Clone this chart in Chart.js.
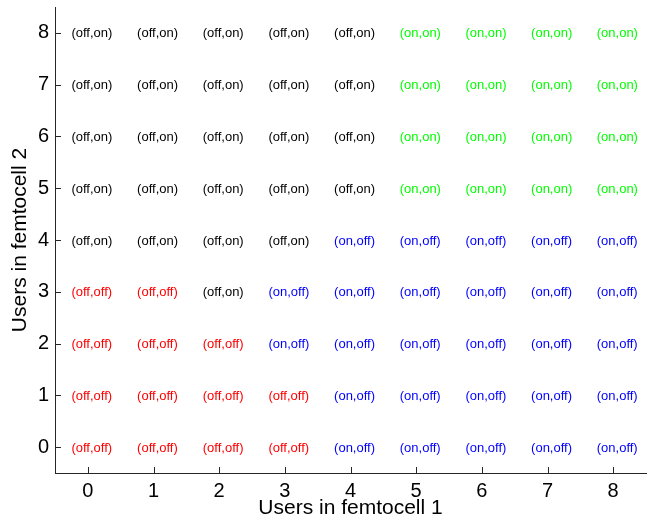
<!DOCTYPE html>
<html>
<head>
<meta charset="utf-8">
<script src="https://cdn.jsdelivr.net/npm/chart.js@4"></script>
<style>
  html, body { margin: 0; padding: 0; background: #fff; }
  #wrap { width: 655px; height: 523px; }
</style>
</head>
<body>
<div id="wrap"><canvas id="femtoChart" width="655" height="523"></canvas></div>
<script>
// Users in each femtocell (axis values)
const usersFemto1 = [0, 1, 2, 3, 4, 5, 6, 7, 8];
const usersFemto2 = [0, 1, 2, 3, 4, 5, 6, 7, 8];

// Access states (femtocell 1, femtocell 2)
const stateLabels = ['(off,off)', '(off,on)', '(on,off)', '(on,on)'];
const stateColors = ['#ff0000', '#000000', '#0000ff', '#00ff00'];

// State index per cell, one row per number of users in femtocell 2
const statesU2_0 = [0, 0, 0, 0, 2, 2, 2, 2, 2];
const statesU2_1 = [0, 0, 0, 0, 2, 2, 2, 2, 2];
const statesU2_2 = [0, 0, 0, 2, 2, 2, 2, 2, 2];
const statesU2_3 = [0, 0, 1, 2, 2, 2, 2, 2, 2];
const statesU2_4 = [1, 1, 1, 1, 2, 2, 2, 2, 2];
const statesU2_5 = [1, 1, 1, 1, 1, 3, 3, 3, 3];
const statesU2_6 = [1, 1, 1, 1, 1, 3, 3, 3, 3];
const statesU2_7 = [1, 1, 1, 1, 1, 3, 3, 3, 3];
const statesU2_8 = [1, 1, 1, 1, 1, 3, 3, 3, 3];
const stateRows = [statesU2_0, statesU2_1, statesU2_2, statesU2_3, statesU2_4,
                   statesU2_5, statesU2_6, statesU2_7, statesU2_8];

const FONT = "'Liberation Sans', Arial, Helvetica, sans-serif";

// one dataset per state
const datasets = stateLabels.map((label, s) => {
  const pts = [];
  stateRows.forEach((row, j) => {
    row.forEach((st, i) => {
      if (st === s) pts.push({ x: usersFemto1[i], y: usersFemto2[j] });
    });
  });
  return { label, data: pts, pointRadius: 0, pointHoverRadius: 0, color: stateColors[s] };
});

// draws the state text in each cell and the inward tick marks
const cellLabels = {
  id: 'cellLabels',
  afterDatasetsDraw(chart) {
    const ctx = chart.ctx;
    const xs = chart.scales.x, ys = chart.scales.y;
    ctx.save();
    ctx.font = '13px ' + FONT;
    ctx.textAlign = 'left';
    ctx.textBaseline = 'middle';
    chart.data.datasets.forEach(ds => {
      ctx.fillStyle = ds.color;
      ds.data.forEach(p => {
        ctx.fillText(ds.label, xs.getPixelForValue(p.x - 0.25), ys.getPixelForValue(p.y) + 1);
      });
    });
    ctx.restore();
  },
  afterDraw(chart) {
    const ctx = chart.ctx;
    const xs = chart.scales.x, ys = chart.scales.y;
    const a = chart.chartArea;
    ctx.save();
    ctx.strokeStyle = '#262626';
    ctx.lineWidth = 1;
    ctx.beginPath();
    usersFemto1.forEach(v => {
      const px = Math.round(xs.getPixelForValue(v)) + 0.5;
      ctx.moveTo(px, a.bottom); ctx.lineTo(px, a.bottom - 6);
    });
    usersFemto2.forEach(v => {
      const py = Math.round(ys.getPixelForValue(v)) + 0.5;
      ctx.moveTo(a.left, py); ctx.lineTo(a.left + 6, py);
    });
    ctx.stroke();
    ctx.restore();
  }
};

const noPad = s => { s.paddingTop = 0; s.paddingBottom = 0; s.paddingLeft = 0; s.paddingRight = 0; };

new Chart(document.getElementById('femtoChart'), {
  type: 'scatter',
  data: { datasets },
  options: {
    responsive: false, animation: false,
    layout: { padding: { top: 7, right: 9, left: 0, bottom: 0 } },
    plugins: { legend: { display: false }, tooltip: { enabled: false } },
    scales: {
      x: {
        type: 'linear', min: -0.5, max: 8.5,
        afterBuildTicks: s => { s.ticks = usersFemto1.map(v => ({ value: v })); },
        afterFit: s => { s.height = 50; noPad(s); },
        grid: { display: false, drawTicks: false },
        border: { display: true, color: '#262626', width: 1 },
        ticks: { color: '#000', font: { family: FONT, size: 20 }, padding: 6, maxRotation: 0 },
        title: { display: true, text: 'Users in femtocell 1', color: '#000',
                 font: { family: FONT, size: 21 }, padding: { top: 0, bottom: 2 } }
      },
      y: {
        type: 'linear', min: -0.5, max: 8.5,
        afterBuildTicks: s => { s.ticks = usersFemto2.map(v => ({ value: v })); },
        afterFit: s => { s.width = 55; noPad(s); },
        grid: { display: false, drawTicks: false },
        border: { display: true, color: '#262626', width: 1 },
        ticks: { color: '#000', font: { family: FONT, size: 20 }, padding: 6 },
        title: { display: true, text: 'Users in femtocell 2', color: '#000',
                 font: { family: FONT, size: 21 }, padding: { top: 8, bottom: 0 } }
      }
    }
  },
  plugins: [cellLabels]
});
</script>
</body>
</html>
